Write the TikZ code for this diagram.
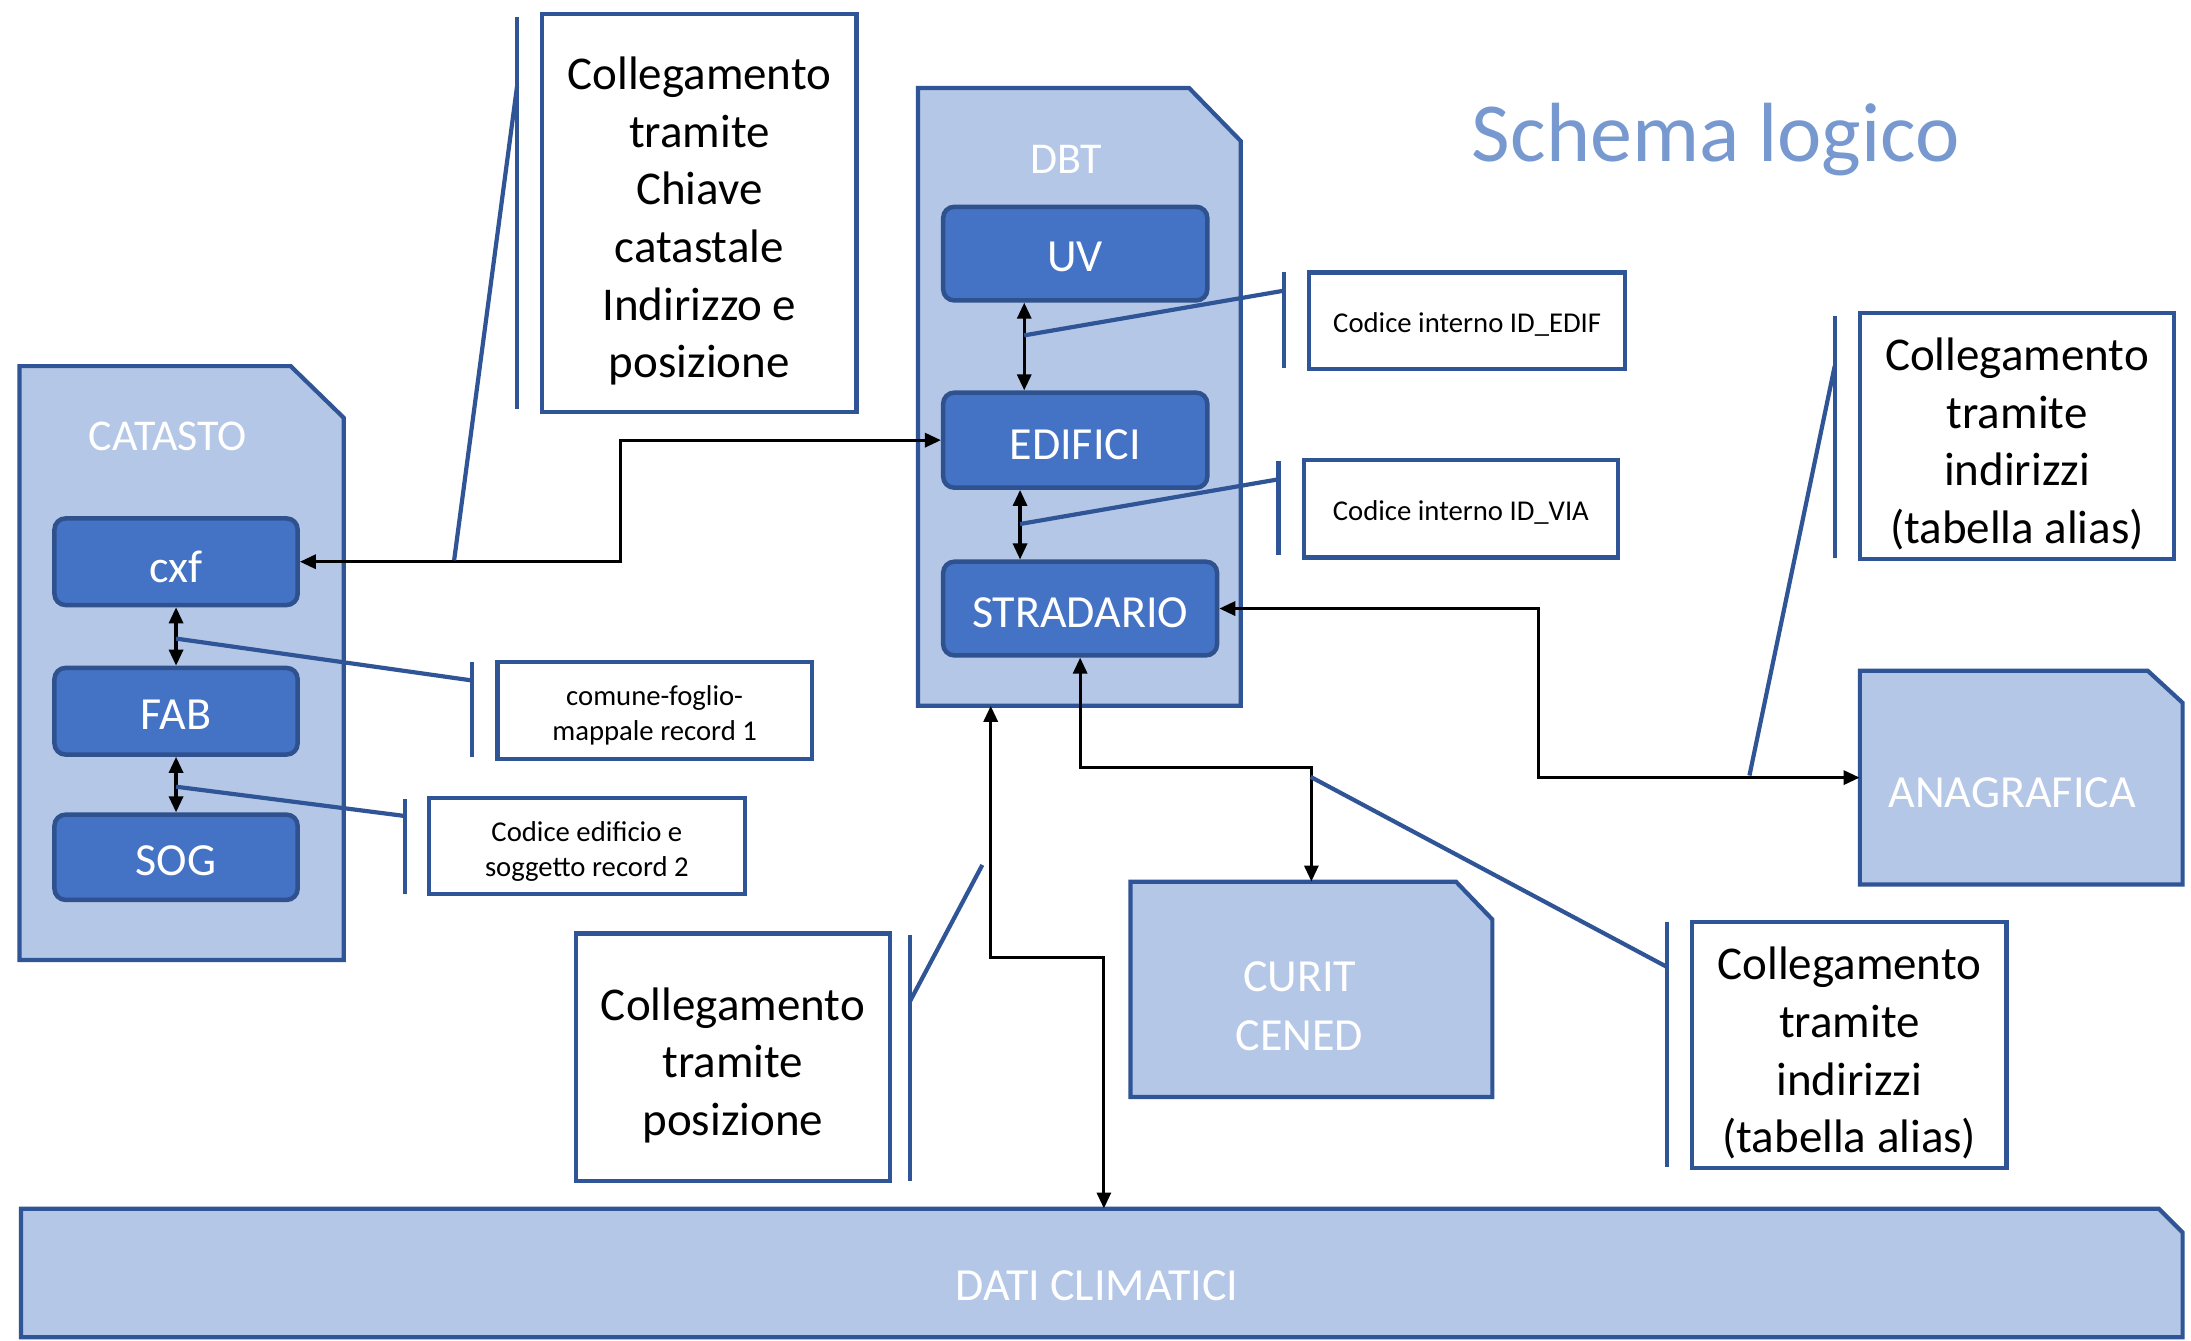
\documentclass[tikz,border=0pt]{standalone}
\usepackage{fontspec}
\setmainfont{Carlito}
\usetikzlibrary{fit,arrows.meta}
\definecolor{lite}{HTML}{B4C7E7}
\definecolor{bdr}{HTML}{2F5597}
\definecolor{nfill}{HTML}{4472C4}
\definecolor{nbdr}{HTML}{2F528F}
\definecolor{ttl}{HTML}{7799D0}
\tikzset{
  db/.style={draw=bdr, fill=lite, line width=4.2pt, line join=miter},
  dblabel/.style={text=white, font=\fontsize{44}{54}\selectfont, inner sep=0pt},
  ent/.style={draw=nbdr, fill=nfill, rounded corners=11pt, line width=4.5pt, inner sep=0pt},
  entlabel/.style={text=white, font=\fontsize{46}{55}\selectfont, inner sep=0pt},
  note/.style={draw=bdr, fill=white, line width=4.2pt, inner sep=0pt},
  bignotetext/.style={align=center, inner sep=0pt, font=\fontsize{47}{57.6}\selectfont},
  smallnotetext/.style={align=center, inner sep=0pt, font=\fontsize{28.7}{35}\selectfont},
  lead/.style={draw=bdr, line width=4.2pt},
  conn/.style={draw=black, line width=3.2pt,
    {Triangle[length=16pt,width=14pt]}-{Triangle[length=16pt,width=14pt]}},
}
\begin{document}
\begin{tikzpicture}[x=1.3973pt, y=-1.3973pt]
\useasboundingbox[fill=white] (0,0) rectangle (1568,959);

% Title
\node[text=ttl, font=\fontsize{84}{92}\selectfont, inner sep=0pt] (title) at (1228,100) {Schema logico};

% CATASTO
\draw[db] (14,262) -- (208,262) -- (246,299) -- (246,687) -- (14,687) -- cycle;
\node[fit={(14,262)(246,687)}, inner sep=0pt] (catasto) {};
\node[dblabel] (catastol) at (120,312) {CATASTO};
\node[ent, fit={(39,371)(213,433)}] (cxf) {};
\node[entlabel] (cxfl) at ([yshift=-5pt]cxf.center) {cxf};
\node[ent, fit={(39,478)(213,540)}] (fab) {};
\node[entlabel] (fabl) at ([yshift=-3pt]fab.center) {FAB};
\node[ent, fit={(39,583)(213,644)}] (sog) {};
\node[entlabel] (sogl) at ([yshift=-3pt]sog.center) {SOG};

% DBT
\draw[db] (657,63) -- (851,63) -- (888,101) -- (888,505) -- (657,505) -- cycle;
\node[fit={(657,63)(888,505)}, inner sep=0pt] (dbt) {};
\node[dblabel] (dbtl) at (763,114) {DBT};
\node[ent, fit={(675,148)(864,215)}] (uv) {};
\node[entlabel] (uvl) at ([yshift=-3.5pt]uv.center) {UV};
\node[ent, fit={(675,281)(864,349)}] (edifici) {};
\node[entlabel] (edificil) at ([yshift=-4.5pt]edifici.center) {EDIFICI};
\node[ent, fit={(675,402)(871,469)}] (stradario) {};
\node[entlabel] (stradariol) at ([yshift=-4pt]stradario.center) {STRADARIO};

% ANAGRAFICA
\draw[db] (1331,480) -- (1537,480) -- (1562,503) -- (1562,633) -- (1331,633) -- cycle;
\node[fit={(1331,480)(1562,633)}, inner sep=0pt] (anag) {};
\node[dblabel, font=\fontsize{46}{56}\selectfont] (anagl) at (1440,567) {ANAGRAFICA};

% CURIT CENED
\draw[db] (809,631) -- (1042,631) -- (1068,658) -- (1068,785) -- (809,785) -- cycle;
\node[fit={(809,631)(1068,785)}, inner sep=0pt] (curit) {};
\node[dblabel, align=center, font=\fontsize{46}{58.7}\selectfont] (curitl) at (930,720) {CURIT\\CENED};

% DATI CLIMATICI
\draw[db] (15,865) -- (1545,865) -- (1562,882) -- (1562,957) -- (15,957) -- cycle;
\node[fit={(15,865)(1562,957)}, inner sep=0pt] (dati) {};
\node[dblabel, font=\fontsize{46}{56}\selectfont] (datil) at (785,920) {DATI CLIMATICI};

% Notes
\node[note, fit={(388,10)(613,295)}] (n1) {};
\node[bignotetext] (n1t) at ([yshift=-8pt]n1.center) {Collegamento\\tramite\\Chiave\\catastale\\Indirizzo e\\posizione};
\node[note, fit={(356,474)(581,543)}] (n2) {};
\node[smallnotetext] (n2t) at ([yshift=-5pt]n2.center) {comune-foglio-\\mappale record 1};
\node[note, fit={(307,571)(533,640)}] (n3) {};
\node[smallnotetext] (n3t) at ([yshift=-5pt]n3.center) {Codice edificio e\\soggetto record 2};
\node[note, fit={(937,195)(1163,264)}] (n4) {};
\node[smallnotetext] (n4t) at ([yshift=-4pt]n4.center) {Codice interno ID\_EDIF};
\node[note, fit={(933,329)(1158,399)}] (n5) {};
\node[smallnotetext] (n5t) at ([yshift=-4pt]n5.center) {Codice interno ID\_VIA};
\node[note, fit={(1331,224)(1556,400)}] (n6) {};
\node[bignotetext] (n6t) at ([yshift=-8pt]n6.center) {Collegamento\\tramite\\indirizzi\\(tabella alias)};
\node[note, fit={(1211,660)(1436,836)}] (n7) {};
\node[bignotetext] (n7t) at ([yshift=-8pt]n7.center) {Collegamento\\tramite\\indirizzi\\(tabella alias)};
\node[note, fit={(412,668)(637,845)}] (n8) {};
\node[bignotetext] (n8t) at ([yshift=-8pt]n8.center) {Collegamento\\tramite\\posizione};

% Connectors
\coordinate (j1) at (444,0);
\draw[conn] (cxf.east) -- (cxf.east -| j1) -- (edifici.west -| j1) -- (edifici.west);
\draw[conn] (cxf.south) -- (fab.north);
\draw[conn] (fab.south) -- (sog.north);
\coordinate (a1) at (733,0);
\draw[conn] (uv.south -| a1) -- (edifici.north -| a1);
\coordinate (a2) at (730,0);
\draw[conn] (edifici.south -| a2) -- (stradario.north -| a2);
\coordinate (j2) at (1101,0);
\draw[conn] (stradario.east) -- (stradario.east -| j2) -- (anag.west -| j2) -- (anag.west);
\coordinate (j3) at (0,549);
\draw[conn] (stradario.south) -- (stradario.south |- j3) -- (curit.north |- j3) -- (curit.north);
\coordinate (k1) at (709,685);
\coordinate (k2) at (790,685);
\draw[conn] (dbt.south -| k1) -- (k1) -- (k2) -- (dati.north -| k2);

% Callout bars and leaders
\coordinate (b1t) at (370,12); \coordinate (b1b) at (370,293);
\draw[lead] (b1t) -- (b1b);
\coordinate (l1a) at (325,401); \coordinate (l1b) at (370,62);
\draw[lead] (l1a) -- (l1b);

\coordinate (b2t) at (338,474); \coordinate (b2b) at (338,542);
\draw[lead] (b2t) -- (b2b);
\coordinate (l2a) at (126,457); \coordinate (l2b) at (338,487);
\draw[lead] (l2a) -- (l2b);

\coordinate (b3t) at (290,572); \coordinate (b3b) at (290,640);
\draw[lead] (b3t) -- (b3b);
\coordinate (l3a) at (126,563); \coordinate (l3b) at (290,584);
\draw[lead] (l3a) -- (l3b);

\coordinate (b4t) at (919,195); \coordinate (b4b) at (919,263);
\draw[lead] (b4t) -- (b4b);
\coordinate (l4a) at (733,240); \coordinate (l4b) at (919,208);
\draw[lead] (l4a) -- (l4b);

\coordinate (b5t) at (915,330); \coordinate (b5b) at (915,397);
\draw[lead] (b5t) -- (b5b);
\coordinate (l5a) at (730,375); \coordinate (l5b) at (915,343);
\draw[lead] (l5a) -- (l5b);

\coordinate (b6t) at (1313,226); \coordinate (b6b) at (1313,399);
\draw[lead] (b6t) -- (b6b);
\coordinate (l6a) at (1252,555); \coordinate (l6b) at (1313,262);
\draw[lead] (l6a) -- (l6b);

\coordinate (b7t) at (1193,660); \coordinate (b7b) at (1193,835);
\draw[lead] (b7t) -- (b7b);
\coordinate (l7a) at (938,556); \coordinate (l7b) at (1193,692);
\draw[lead] (l7a) -- (l7b);

\coordinate (b8t) at (651,669); \coordinate (b8b) at (651,845);
\draw[lead] (b8t) -- (b8b);
\coordinate (l8a) at (703,619); \coordinate (l8b) at (651,717);
\draw[lead] (l8a) -- (l8b);
\end{tikzpicture}
\end{document}
